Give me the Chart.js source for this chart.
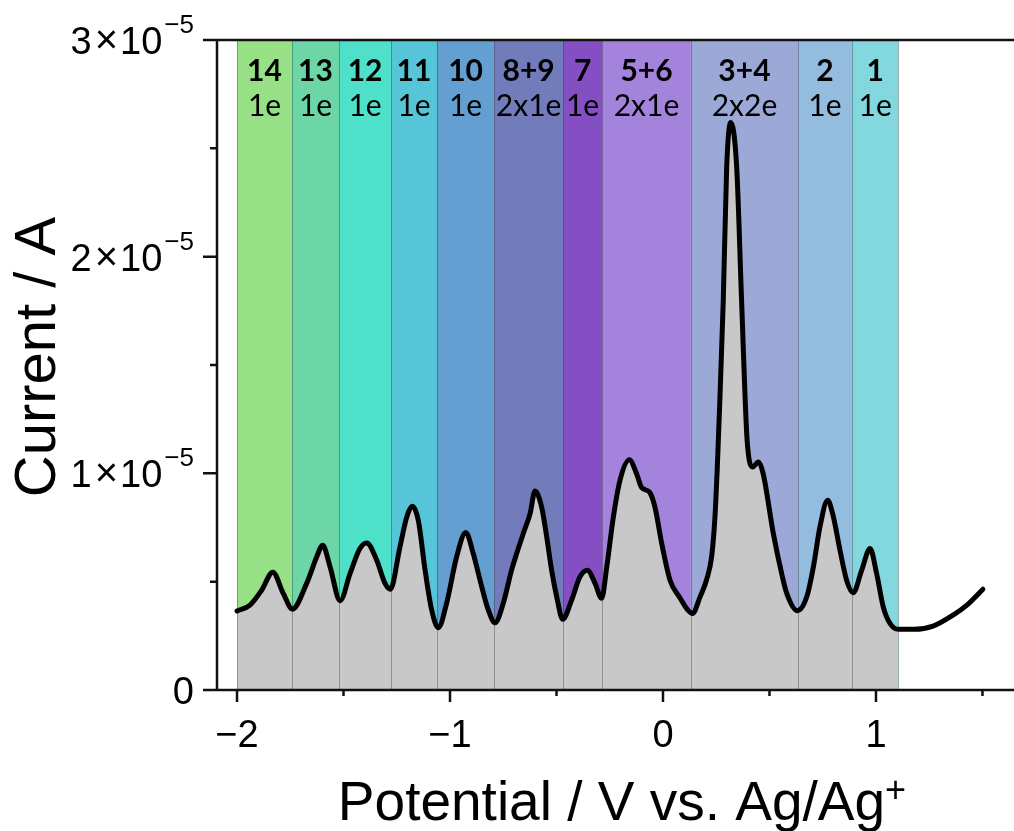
<!DOCTYPE html>
<html>
<head>
<meta charset="utf-8">
<script src="https://cdn.jsdelivr.net/npm/chart.js@4.4.1/dist/chart.umd.min.js"></script>
<style>
  html, body { margin: 0; padding: 0; background: #ffffff; }
  #wrap { width: 1014px; height: 831px; }
</style>
</head>
<body>
<div id="wrap"><canvas id="cv" width="1014" height="831"></canvas></div>
<script>
// Differential pulse voltammogram: potential (V vs. Ag/Ag+) and current (A)
const potential = [
  -2.000, -1.939, -1.884, -1.832, -1.783, -1.740, -1.673, -1.626, -1.598, -1.563,
  -1.516, -1.469, -1.423, -1.391, -1.344, -1.305, -1.280, -1.235, -1.203, -1.177,
  -1.149, -1.117, -1.086, -1.055, -1.016, -0.969, -0.926, -0.891, -0.851, -0.820,
  -0.789, -0.750, -0.711, -0.687, -0.656, -0.624, -0.601, -0.570, -0.546, -0.523,
  -0.499, -0.471, -0.429, -0.390, -0.355, -0.319, -0.288, -0.264, -0.233, -0.202,
  -0.158, -0.124, -0.100, -0.064, -0.038, -0.006, 0.033, 0.080, 0.114, 0.139,
  0.174, 0.205, 0.229, 0.244, 0.255, 0.264, 0.283, 0.299, 0.318, 0.346,
  0.369, 0.393, 0.405, 0.421, 0.448, 0.470, 0.518, 0.557, 0.581, 0.631,
  0.675, 0.706, 0.737, 0.773, 0.800, 0.831, 0.862, 0.893, 0.933, 0.972,
  1.003, 1.034, 1.066, 1.105, 1.180, 1.268, 1.362, 1.427, 1.502
];
const current = [
  0.365e-5, 0.392e-5, 0.461e-5, 0.544e-5, 0.446e-5, 0.373e-5, 0.492e-5, 0.614e-5, 0.668e-5, 0.568e-5,
  0.412e-5, 0.538e-5, 0.653e-5, 0.679e-5, 0.599e-5, 0.492e-5, 0.465e-5, 0.660e-5, 0.799e-5, 0.848e-5,
  0.783e-5, 0.553e-5, 0.369e-5, 0.287e-5, 0.400e-5, 0.614e-5, 0.727e-5, 0.630e-5, 0.476e-5, 0.369e-5,
  0.310e-5, 0.400e-5, 0.553e-5, 0.630e-5, 0.722e-5, 0.814e-5, 0.918e-5, 0.845e-5, 0.707e-5, 0.553e-5,
  0.430e-5, 0.326e-5, 0.415e-5, 0.522e-5, 0.553e-5, 0.492e-5, 0.423e-5, 0.568e-5, 0.799e-5, 0.968e-5,
  1.063e-5, 0.998e-5, 0.934e-5, 0.914e-5, 0.845e-5, 0.676e-5, 0.507e-5, 0.425e-5, 0.372e-5, 0.353e-5,
  0.430e-5, 0.510e-5, 0.620e-5, 0.799e-5, 1.029e-5, 1.260e-5, 1.797e-5, 2.412e-5, 2.619e-5, 2.412e-5,
  1.797e-5, 1.183e-5, 1.060e-5, 1.029e-5, 1.052e-5, 1.000e-5, 0.722e-5, 0.538e-5, 0.446e-5, 0.366e-5,
  0.430e-5, 0.568e-5, 0.753e-5, 0.876e-5, 0.799e-5, 0.645e-5, 0.507e-5, 0.449e-5, 0.553e-5, 0.653e-5,
  0.538e-5, 0.384e-5, 0.307e-5, 0.280e-5, 0.280e-5, 0.295e-5, 0.346e-5, 0.392e-5, 0.465e-5
];

// Reduction regions: edges (V), names, electron counts
const bandEdges = [-2.000, -1.742, -1.521, -1.277, -1.061, -0.793, -0.469, -0.286, 0.131, 0.634, 0.887, 1.105];
const bandNames = ['14', '13', '12', '11', '10', '8+9', '7', '5+6', '3+4', '2', '1'];
const bandElectrons = ['1e', '1e', '1e', '1e', '1e', '2x1e', '1e', '2x1e', '2x2e', '1e', '1e'];
const bandColors = ['#97e086', '#6cd6a6', '#4ee0c8', '#56c5d8', '#639fd0', '#737cba',
                    '#854fc4', '#a483dc', '#9ca8d6', '#94bcde', '#83d7de'];

// Axis ticks
const xMajorTicks = [-2, -1, 0, 1];
const xMajorLabels = ['\u22122', '\u22121', '0', '1'];
const xMinorTicks = [-1.5, -0.5, 0.5, 1.5];
const yMajorTicks = [0, 1e-5, 2e-5, 3e-5];
const yMantissas = ['0', '1', '2', '3'];
const yLabelExponents = ['', '\u22125', '\u22125', '\u22125'];
const yMinorTicks = [0.5e-5, 1.5e-5, 2.5e-5];

const xMin = -2.094, xMax = 1.648, yMin = 0, yMax = 3e-5;

const curvePts = potential.map((v, i) => ({ x: v, y: current[i] }));
const fillPts = curvePts.filter(p => p.x <= bandEdges[bandEdges.length - 1]);

const AXIS_FONT = '"Liberation Sans", Arial, sans-serif';
const LABEL_FONT = 'Lato, "Open Sans", sans-serif';
const INK = '#111111';

const decor = {
  id: 'decor',
  beforeDatasetsDraw(chart) {
    const { ctx, scales: { x, y } } = chart;
    const top = y.getPixelForValue(yMax), bot = y.getPixelForValue(0);
    ctx.save();
    for (let i = 0; i < bandColors.length; i++) {
      const x0 = x.getPixelForValue(bandEdges[i]);
      const x1 = x.getPixelForValue(bandEdges[i + 1]);
      ctx.fillStyle = bandColors[i];
      ctx.fillRect(x0, top, x1 - x0, bot - top);
    }
    ctx.restore();
  },
  afterDatasetDraw(chart, args) {
    if (args.index !== 1) return;
    // thin separators between regions, drawn over the grey fill
    const { ctx, scales: { x, y } } = chart;
    const top = y.getPixelForValue(yMax), bot = y.getPixelForValue(0);
    ctx.save();
    ctx.lineWidth = 1;
    ctx.strokeStyle = 'rgba(0,0,0,0.28)';
    bandEdges.forEach(e => {
      const px = Math.round(x.getPixelForValue(e)) + 0.5;
      ctx.beginPath();
      ctx.moveTo(px, top);
      ctx.lineTo(px, bot);
      ctx.stroke();
    });
    ctx.restore();
  },
  afterDatasetsDraw(chart) {
    const { ctx, scales: { x, y } } = chart;
    ctx.save();
    ctx.fillStyle = '#000';
    ctx.textAlign = 'center';
    ctx.textBaseline = 'alphabetic';
    const nameY = y.getPixelForValue(2.811e-5);
    const elecY = y.getPixelForValue(2.650e-5);
    for (let i = 0; i < bandNames.length; i++) {
      const cx = (x.getPixelForValue(bandEdges[i]) + x.getPixelForValue(bandEdges[i + 1])) / 2;
      ctx.font = 'bold 30px ' + LABEL_FONT;
      ctx.fillText(bandNames[i], cx, nameY);
      ctx.font = '30px ' + LABEL_FONT;
      ctx.fillText(bandElectrons[i], cx, elecY);
    }
    ctx.restore();
  },
  afterDraw(chart) {
    const { ctx, chartArea: area, scales: { x, y } } = chart;
    ctx.save();
    ctx.strokeStyle = INK;
    ctx.fillStyle = '#000';
    ctx.lineWidth = 2.5;
    ctx.lineCap = 'butt';

    const yTop = y.getPixelForValue(yMax), yBot = y.getPixelForValue(0);
    // frame: left axis, bottom axis, top edge
    ctx.beginPath();
    ctx.moveTo(area.left, yTop); ctx.lineTo(area.left, yBot);
    ctx.moveTo(area.left, yBot); ctx.lineTo(area.right, yBot);
    ctx.moveTo(area.left, yTop); ctx.lineTo(area.right, yTop);
    ctx.stroke();

    // y ticks
    ctx.beginPath();
    yMajorTicks.forEach(v => { const py = y.getPixelForValue(v); ctx.moveTo(area.left - 14, py); ctx.lineTo(area.left, py); });
    yMinorTicks.forEach(v => { const py = y.getPixelForValue(v); ctx.moveTo(area.left - 7, py); ctx.lineTo(area.left, py); });
    // x ticks
    xMajorTicks.forEach(v => { const px = x.getPixelForValue(v); ctx.moveTo(px, yBot); ctx.lineTo(px, yBot + 12); });
    xMinorTicks.forEach(v => { const px = x.getPixelForValue(v); ctx.moveTo(px, yBot); ctx.lineTo(px, yBot + 6); });
    ctx.stroke();

    // y tick labels: mantissa × 10^exponent, laid out right to left
    ctx.textBaseline = 'alphabetic';
    ctx.textAlign = 'right';
    yMajorTicks.forEach((v, i) => {
      const py = y.getPixelForValue(v);
      let right = area.left - 23;
      if (yLabelExponents[i]) {
        ctx.font = '26px ' + AXIS_FONT;
        ctx.fillText(yLabelExponents[i], right, py - 7);
        right -= ctx.measureText(yLabelExponents[i]).width + 2;
        ctx.font = '38px ' + AXIS_FONT;
        ctx.fillText('10', right, py + 14);
        right -= ctx.measureText('10').width + 2;
        ctx.font = '40px ' + AXIS_FONT;
        ctx.fillText('\u00d7', right, py + 13);
        right -= ctx.measureText('\u00d7').width + 3;
      }
      ctx.font = '38px ' + AXIS_FONT;
      ctx.fillText(yMantissas[i], right, py + 14);
    });

    // x tick labels
    ctx.font = '38px ' + AXIS_FONT;
    ctx.textAlign = 'center';
    xMajorTicks.forEach((v, i) => {
      ctx.fillText(xMajorLabels[i], x.getPixelForValue(v), yBot + 57);
    });

    // x title with superscript
    const mainT = 'Potential / V vs. Ag/Ag';
    ctx.font = '55px ' + AXIS_FONT;
    const wMain = ctx.measureText(mainT).width;
    ctx.font = '36px ' + AXIS_FONT;
    const wSup = ctx.measureText('+').width;
    const startX = 622 - (wMain + wSup) / 2;
    ctx.textAlign = 'left';
    ctx.font = '55px ' + AXIS_FONT;
    ctx.fillText(mainT, startX, yBot + 130);
    ctx.font = '36px ' + AXIS_FONT;
    ctx.fillText('+', startX + wMain, yBot + 112);

    // y title
    ctx.translate(55, (yTop + yBot) / 2 - 8);
    ctx.rotate(-Math.PI / 2);
    ctx.font = '58px ' + AXIS_FONT;
    ctx.textAlign = 'center';
    ctx.fillText('Current / A', 0, 0);
    ctx.restore();
  }
};

new Chart(document.getElementById('cv'), {
  type: 'line',
  data: {
    datasets: [
      {
        label: 'Current',
        data: curvePts,
        borderColor: '#000000',
        borderWidth: 5,
        borderJoinStyle: 'round',
        borderCapStyle: 'round',
        cubicInterpolationMode: 'monotone',
        pointRadius: 0,
        fill: false,
        order: 1
      },
      {
        label: 'Charge',
        data: fillPts,
        borderColor: 'transparent',
        borderWidth: 0,
        backgroundColor: '#c8c8c8',
        cubicInterpolationMode: 'monotone',
        pointRadius: 0,
        fill: 'origin',
        order: 2
      }
    ]
  },
  options: {
    responsive: false,
    animation: false,
    devicePixelRatio: 1,
    layout: { padding: { left: 217, top: 40, right: 0, bottom: 141 } },
    plugins: { legend: { display: false }, tooltip: { enabled: false }, title: { display: false } },
    scales: {
      x: { type: 'linear', min: xMin, max: xMax, display: false },
      y: { type: 'linear', min: yMin, max: yMax, display: false }
    }
  },
  plugins: [decor]
});
</script>
</body>
</html>
